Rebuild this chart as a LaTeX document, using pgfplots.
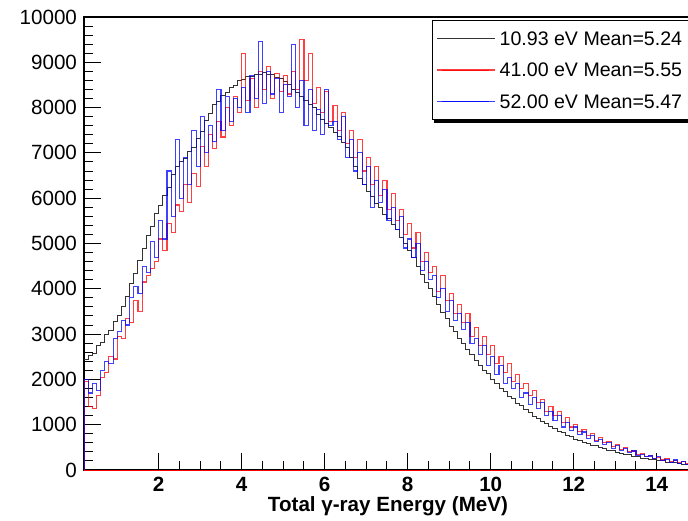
\documentclass[border=0pt]{standalone}
\usepackage{fontspec}
\setmainfont{Liberation Sans}
\usepackage{pgfplots}
\usepackage{pgfplotstable}
\pgfplotsset{compat=1.18}

\pgfplotstableread{
x k r b
0.2 2450 1950 2000
0.3 2520 1400 1700
0.4 2580 1350 1900
0.5 2750 1650 1750
0.6 2820 2050 2200
0.7 3000 2150 2400
0.8 3080 2500 2350
0.9 3270 2450 2900
1.0 3400 2950 3050
1.1 3620 2900 3300
1.2 3830 3350 3200
1.3 4120 3250 3800
1.4 4330 3750 4050
1.5 4620 3500 3900
1.6 4880 4150 4500
1.7 5170 4300 4350
1.8 5380 4450 5050
1.9 5670 4600 4700
2.0 5840 5100 5500
2.1 6070 4850 5100
2.2 6230 5450 6600
2.3 6520 5250 5600
2.4 6690 5850 7300
2.5 6820 5700 6000
2.6 6880 6300 6900
2.7 7020 5900 6300
2.8 7130 6550 7500
2.9 7320 6250 6700
3.0 7480 7150 7800
3.1 7720 6700 7000
3.2 7880 7400 7600
3.3 8060 7100 7250
3.4 8140 7700 8400
3.5 8270 7350 7500
3.6 8330 8000 8250
3.7 8440 7600 7700
3.8 8490 8250 8200
3.9 8590 7900 8000
4.0 8610 9200 8450
4.1 8680 8150 7900
4.2 8690 8650 8700
4.3 8740 8000 8200
4.4 8730 8800 9450
4.5 8770 8400 8100
4.6 8730 8900 8800
4.7 8730 8200 8300
4.8 8670 8750 8650
4.9 8640 8350 7900
5.0 8570 8700 8500
5.1 8510 8300 8250
5.2 8410 8800 9400
5.3 8340 8400 8000
5.4 8240 9500 8600
5.5 8160 8600 7600
5.6 8070 9200 8400
5.7 8010 8100 7500
5.8 7840 8450 7950
5.9 7740 7900 7400
6.0 7640 8350 8400
6.1 7560 7700 7600
6.2 7440 8050 7700
6.3 7360 7500 7300
6.4 7240 7900 7800
6.5 7110 7200 6900
6.6 6890 7500 7300
6.7 6710 6900 6600
6.8 6440 7300 7000
6.9 6310 6600 6300
7.0 6140 6900 6700
7.1 6030 6300 5800
7.2 5890 6700 6400
7.3 5790 6050 5900
7.4 5640 6400 6200
7.5 5560 5750 5500
7.6 5410 6100 5800
7.7 5310 5500 5300
7.8 5140 5750 5600
7.9 5010 5200 4900
8.0 4840 5450 5100
8.1 4690 4900 4700
8.2 4490 5250 5000
8.3 4310 4600 4400
8.4 4140 4800 4600
8.5 4010 4350 4200
8.6 3840 4500 4300
8.7 3660 3950 3800
8.8 3470 4300 4000
8.9 3340 3750 3500
9.0 3170 3900 3750
9.1 3060 3450 3300
9.2 2910 3650 3450
9.3 2800 3250 3100
9.4 2660 3450 3250
9.5 2560 2950 2800
9.6 2420 3150 2900
9.7 2310 2750 2550
9.8 2190 2950 2750
9.9 2120 2550 2300
10.0 1990 2750 2500
10.1 1910 2350 2100
10.2 1800 2500 2300
10.3 1730 2150 1900
10.4 1630 2350 2050
10.5 1570 1950 1800
10.6 1470 2100 1900
10.7 1420 1800 1600
10.8 1330 1900 1700
10.9 1280 1650 1450
11.0 1190 1750 1600
11.1 1140 1500 1350
11.2 1060 1550 1500
11.3 1020 1300 1200
11.4 950 1400 1300
11.5 920 1200 1100
11.6 850 1300 1200
11.7 820 1050 950
11.8 760 1150 1050
11.9 740 950 870
12.0 680 1000 950
12.1 660 850 780
12.2 610 900 840
12.3 590 760 700
12.4 540 800 760
12.5 530 650 620
12.6 490 720 680
12.7 470 600 560
12.8 430 630 600
12.9 420 520 480
13.0 390 560 540
13.1 375 460 430
13.2 345 490 470
13.3 335 400 380
13.4 305 420 420
13.5 295 340 330
13.6 265 370 350
13.7 260 300 290
13.8 235 320 310
13.9 230 260 250
14.0 205 280 290
14.1 200 220 200
14.2 175 250 240
14.3 170 190 170
14.4 155 210 220
14.5 145 160 140
14.6 130 180 190
14.7 125 140 120
14.8 120 150 130
}\hist

\begin{document}
\begin{tikzpicture}
\useasboundingbox (-42pt,-25pt) rectangle (302pt,235pt);
\begin{axis}[
  at={(0,0)}, anchor=south west,
  scale only axis,
  width=304pt, height=226.5pt,
  xmin=0.2, xmax=14.85, ymin=0, ymax=10000,
  xtick={2,4,...,14}, minor x tick num=3,
  ytick={0,1000,...,10000}, minor y tick num=4,
  tick pos=left,
  major tick length=8.5pt, minor tick length=4.5pt,
  axis line style={line width=0.75pt},
  every tick/.style={black, line width=0.5pt},
  scaled y ticks=false,
  /pgf/number format/assume math mode=true,
  /pgf/number format/1000 sep={},
  xticklabel style={font=\fontsize{10.3}{12}\selectfont\bfseries},
  yticklabel style={font=\fontsize{10.3}{12}\selectfont},
  xlabel={Total γ-ray Energy (MeV)},
  xlabel style={font=\fontsize{10.3}{12}\selectfont\bfseries, yshift=4.5pt},
  legend style={name=leg, at={(axis description cs:0.5724,0.9934)}, anchor=north west,
    draw=black, line width=0.5pt, fill=white,
    font=\fontsize{9.8}{12}\selectfont, inner xsep=2pt, inner ysep=3.5pt,
    row sep=5pt, nodes={text depth=0pt}},
  legend cell align=left,
  legend image code/.code={\path (0pt,0pt) -- (29pt,0pt); \draw[#1, line width=0.45pt, opacity=0.8] (2.5pt,0pt) -- (26pt,0pt);},
]
\addplot[const plot, black!80, line width=0.5pt] table[x=x,y=k] {\hist};
\addlegendentry{\makebox[120pt][l]{10.93 eV Mean=5.24}}
\addplot[const plot, red, opacity=0.75, line width=0.55pt] table[x=x,y=r] {\hist};
\addlegendentry{\makebox[120pt][l]{41.00 eV Mean=5.55}}
\addplot[const plot, blue, opacity=0.75, line width=0.55pt] table[x=x,y=b] {\hist};
\addlegendentry{\makebox[120pt][l]{52.00 eV Mean=5.47}}
\addplot[red, forget plot, line width=0.5pt] coordinates {(0.2,0) (14.85,0)};
\addplot[blue!70!red, forget plot, line width=0.8pt] coordinates {(0.2,0) (0.2,2000)};
\end{axis}
\fill[black] ([xshift=1pt]leg.south west) rectangle ([yshift=-1.6pt]leg.south east);
\end{tikzpicture}
\end{document}
